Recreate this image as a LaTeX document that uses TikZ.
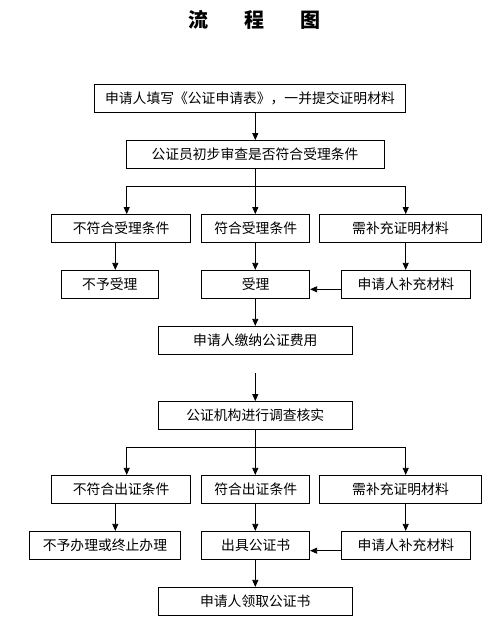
\documentclass[tikz,border=0pt]{standalone}
\usepackage{fontspec}
\newfontfamily\cjk{Noto Sans CJK SC}
\usetikzlibrary{arrows.meta}
\begin{document}
\begin{tikzpicture}[x=1pt,y=1pt,
  box/.style={draw,line width=0.8pt,inner sep=0pt,minimum height=28pt,font=\cjk\fontsize{13.8}{16}\selectfont},
  arr/.style={line width=0.8pt,-{Triangle[length=7pt,width=6pt]}},
  ln/.style={line width=0.8pt}]
\useasboundingbox (0,0) rectangle (496,-638);
\node[font=\cjk\bfseries\fontsize{20}{24}\selectfont] (title) at (254,-20) {流\hspace{36pt}程\hspace{36pt}图};
% boxes
\node[box,minimum width=311pt] (b1) at (250,-98) {申请人填写《公证申请表》，一并提交证明材料};
\node[box,minimum width=258pt] (b2) at (255,-154.5) {公证员初步审查是否符合受理条件};
\node[box,minimum width=139pt] (A) at (121.2,-228.5) {不符合受理条件};
\node[box,minimum width=108pt] (B) at (255.7,-228.5) {符合受理条件};
\node[box,minimum width=161.6pt] (C) at (400.5,-228.5) {需补充证明材料};
\node[box,minimum width=97pt] (D) at (109.8,-284.3) {不予受理};
\node[box,minimum width=108pt] (E) at (255.7,-284.3) {受理};
\node[box,minimum width=129pt] (F) at (405.8,-284.3) {申请人补充材料};
\node[box,minimum width=194pt] (G) at (255.3,-340.3) {申请人缴纳公证费用};
\node[box,minimum width=194pt] (H) at (255.3,-415.5) {公证机构进行调查核实};
\node[box,minimum width=139pt] (A2) at (121.2,-489.3) {不符合出证条件};
\node[box,minimum width=108pt] (B2) at (255.7,-489.3) {符合出证条件};
\node[box,minimum width=161.6pt] (C2) at (400.5,-489.3) {需补充证明材料};
\node[box,minimum width=151.4pt] (D2) at (105,-545.3) {不予办理或终止办理};
\node[box,minimum width=108pt] (E2) at (255.7,-545.3) {出具公证书};
\node[box,minimum width=129pt] (F2) at (405.8,-545.3) {申请人补充材料};
\node[box,minimum width=194pt] (I) at (255.3,-601.3) {申请人领取公证书};
% helper coordinates
\coordinate (xm) at (255.3,0);
\coordinate (xl) at (126.7,0);
\coordinate (xr) at (405.7,0);
\coordinate (xd) at (115.3,0);
\coordinate (j1) at (255.3,-186.3);
\coordinate (j2) at (255.3,-447.3);
\coordinate (y1) at (0,-289.3);
\coordinate (y2) at (0,-550.7);
\coordinate (g0) at (255.3,-373.3);
% connectors upper
\draw[arr] (b1.south -| xm) -- (b2.north -| xm);
\draw[ln] (b2.south -| xm) -- (j1);
\draw[ln] (j1 -| xl) -- (j1 -| xr);
\draw[arr] (j1 -| xl) -- (A.north -| xl);
\draw[arr] (j1) -- (B.north -| xm);
\draw[arr] (j1 -| xr) -- (C.north -| xr);
\draw[arr] (A.south -| xd) -- (D.north -| xd);
\draw[arr] (B.south -| xm) -- (E.north -| xm);
\draw[arr] (C.south -| xr) -- (F.north -| xr);
\draw[arr] (F.west |- y1) -- (E.east |- y1);
\draw[arr] (E.south -| xm) -- (G.north -| xm);
\draw[arr] (g0) -- (H.north -| xm);
% connectors lower
\draw[ln] (H.south -| xm) -- (j2);
\draw[ln] (j2 -| xl) -- (j2 -| xr);
\draw[arr] (j2 -| xl) -- (A2.north -| xl);
\draw[arr] (j2) -- (B2.north -| xm);
\draw[arr] (j2 -| xr) -- (C2.north -| xr);
\draw[arr] (A2.south -| xd) -- (D2.north -| xd);
\draw[arr] (B2.south -| xm) -- (E2.north -| xm);
\draw[arr] (C2.south -| xr) -- (F2.north -| xr);
\draw[arr] (F2.west |- y2) -- (E2.east |- y2);
\draw[arr] (E2.south -| xm) -- (I.north -| xm);
\end{tikzpicture}
\end{document}
